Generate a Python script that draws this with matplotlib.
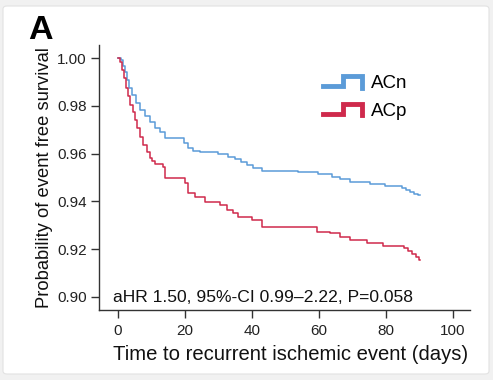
"""Kaplan-Meier style event-free survival, ACn vs ACp (panel A)."""

import numpy as np
import matplotlib
matplotlib.use("Agg")
import matplotlib.pyplot as plt
from matplotlib.lines import Line2D
from matplotlib.legend_handler import HandlerBase
from matplotlib.patches import FancyBboxPatch

plt.rcParams["font.family"] = ["Liberation Sans", "DejaVu Sans"]

# step points: time (days) of each drop, survival after it
acn_t = [0, 0.9, 1.5, 2.1, 2.7, 3.3, 4.2, 5.4, 6.6, 8.1, 9.6, 11.0, 12.5, 14.0,
         19.7, 20.9, 22.4, 24.5, 29.9, 32.8, 34.9, 36.7, 38.5, 40.3, 43.0, 53.7,
         59.7, 63.9, 66.3, 69.3, 75.2, 79.7, 84.8, 86.0, 87.2, 88.4, 89.6, 90.0]
acn_s = [1.0, 0.9992, 0.9967, 0.9941, 0.9908, 0.9874, 0.9845, 0.9812, 0.9782,
         0.9757, 0.9732, 0.9707, 0.9690, 0.9665, 0.9644, 0.9623, 0.9611, 0.9607,
         0.9598, 0.9586, 0.9577, 0.9565, 0.9552, 0.9540, 0.9527, 0.9521, 0.9515,
         0.9502, 0.9494, 0.9481, 0.9473, 0.9464, 0.9456, 0.9448, 0.9439, 0.9431,
         0.9427, 0.9427]

acp_t = [0, 0.6, 1.2, 1.8, 2.4, 3.0, 3.6, 4.5, 5.1, 5.7, 6.6, 7.5, 8.7, 9.6,
         10.1, 11.0, 13.4, 14.0, 20.0, 20.9, 23.0, 26.0, 30.4, 32.5, 34.3, 35.8,
         40.0, 43.0, 59.4, 63.3, 66.3, 69.3, 74.3, 79.1, 85.4, 86.6, 87.8, 89.0,
         89.9, 90.0]
acp_s = [1.0, 0.9983, 0.9950, 0.9916, 0.9874, 0.9841, 0.9803, 0.9774, 0.9741,
         0.9707, 0.9669, 0.9636, 0.9607, 0.9582, 0.9569, 0.9556, 0.9544, 0.9498,
         0.9477, 0.9435, 0.9418, 0.9397, 0.9385, 0.9364, 0.9351, 0.9335, 0.9322,
         0.9293, 0.9272, 0.9268, 0.9251, 0.9238, 0.9226, 0.9213, 0.9205, 0.9193,
         0.9180, 0.9167, 0.9155, 0.9155]

groups = ["ACn", "ACp"]
colors = ["#5b9bd8", "#cf2a4c"]
xticks = [0, 20, 40, 60, 80, 100]
yticks = [0.90, 0.92, 0.94, 0.96, 0.98, 1.00]
stats_text = "aHR 1.50, 95%-CI 0.99\u20132.22, P=0.058"


class StepHandler(HandlerBase):
    """Legend key drawn as a small step, like the SPSS survival plot."""

    def create_artists(self, legend, orig_handle, xdescent, ydescent,
                       width, height, fontsize, trans):
        w, h = width, height
        x0, y0 = -xdescent, -ydescent
        xs = [x0, x0 + 0.5 * w, x0 + 0.5 * w, x0 + w, x0 + w]
        ys = [y0 + 0.1 * h, y0 + 0.1 * h, y0 + 0.95 * h, y0 + 0.95 * h,
              y0 - 0.05 * h]
        line = Line2D(xs, ys, color=orig_handle.get_color(), lw=3.5,
                      solid_joinstyle="miter", transform=trans)
        return [line]


fig = plt.figure(figsize=(4.93, 3.8), dpi=100)
fig.patch.set_facecolor("#f1f1f1")
card = FancyBboxPatch((3 / 493, 6 / 380), 486 / 493, 368 / 380,
                      boxstyle="round,pad=0,rounding_size=0.008",
                      transform=fig.transFigure, facecolor="white",
                      edgecolor="#e2e2e2", lw=0.8, zorder=-1)
fig.patches.append(card)

ax = fig.add_axes([99 / 493, 70 / 380, 371 / 493, 265 / 380])
ax.set_facecolor("none")

handles = []
for t, s, name, c in zip([acn_t, acp_t], [acn_s, acp_s], groups, colors):
    (ln,) = ax.step(t, s, where="post", color=c, lw=1.1, label=name)
    handles.append(ln)

ax.set_xlim(-5.67, 105.07)
ax.set_ylim(0.89456, 1.00544)
ax.set_xticks(xticks)
ax.set_yticks(yticks)
ax.set_yticklabels([f"{v:.2f}" for v in yticks])
for side in ["top", "right"]:
    ax.spines[side].set_visible(False)
for side in ["left", "bottom"]:
    ax.spines[side].set_color("#333333")
    ax.spines[side].set_linewidth(1.0)
ax.tick_params(axis="both", direction="out", length=6, width=1.0,
               color="#333333", labelsize=11, labelcolor="#222222")
ax.tick_params(axis="x", pad=4)
ax.tick_params(axis="y", pad=3)

ax.set_xlabel("Time to recurrent ischemic event (days)", fontsize=14.6,
              color="#111111")
ax.xaxis.set_label_coords(0.517, -0.133)
ax.set_ylabel("Probability of event free survival", fontsize=13.2,
              color="#111111", labelpad=3)

ax.text(0.038, 0.02, stats_text, transform=ax.transAxes, fontsize=12.6,
        color="#111111", ha="left", va="bottom")

leg = ax.legend(handles=handles, labels=groups, loc="upper left",
                bbox_to_anchor=(0.604, 0.886), frameon=False, fontsize=13.5,
                handler_map={Line2D: StepHandler()}, handlelength=2.1,
                handleheight=0.6, handletextpad=0.45, labelspacing=0.55,
                borderaxespad=0, borderpad=0)

fig.text(28 / 493, 1 - 39 / 380, "A", fontsize=24.5, fontweight="bold",
         ha="left", va="baseline", color="black")

fig.savefig("out.png", dpi=100)
